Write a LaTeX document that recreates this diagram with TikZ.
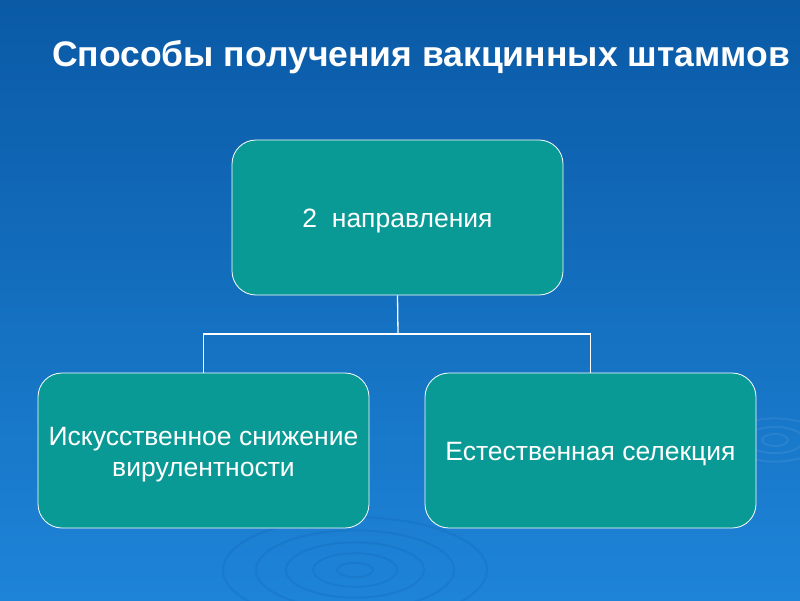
\documentclass[tikz,border=0pt]{standalone}
\usepackage{fontspec}
\setmainfont{Liberation Sans}
\newcommand{\boxtext}[1]{\raisebox{-4pt}[\height][\depth]{\begin{tabular}{@{}c@{}}#1\end{tabular}}}
\begin{document}
\begin{tikzpicture}[x=1pt,y=-1pt,
  box/.style={draw=white, line width=0.8pt, fill=boxteal, rounded corners=24pt, minimum width=331pt, minimum height=155pt, text=white, align=center, font=\fontsize{26.5}{31}\selectfont, inner sep=0pt},
  link/.style={draw=white, line width=1.3pt},
  ripple/.style={draw=ripplecol, opacity=0.3, line width=2pt}]
\definecolor{bgtop}{HTML}{0A5AA6}
\definecolor{bgbot}{HTML}{1E84D8}
\definecolor{boxteal}{HTML}{0A9A96}
\definecolor{ripplecol}{HTML}{1468B8}
\shade[top color=bgtop, bottom color=bgbot] (0,0) rectangle (800,600);
\useasboundingbox (0,0) rectangle (800,600);
\foreach \r in {12,28,46,66,88} {\draw[ripple] (355,570) ellipse ({\r*1.5} and {\r*0.6});}
\foreach \r in {10,22,36} {\draw[ripple, draw=white, opacity=0.07] (775,440) ellipse ({\r*1.3} and {\r*0.6});}
\node[text=white, font=\bfseries\fontsize{35.5}{40}\selectfont] (title) at (421,57) {Способы получения вакцинных штаммов};
\node[box] (top) at (397.5,217.5) {\boxtext{2\ \ направления}};
\node[box] (left) at (203.5,450.5) {\boxtext{Искусственное снижение\\вирулентности}};
\node[box] (right) at (590.5,450.5) {\boxtext{Естественная селекция}};
\coordinate (mid) at (398,334);
\draw[link] (top.south) -- (mid);
\draw[link] (left.north) |- (mid) -| (right.north);
\end{tikzpicture}
\end{document}
